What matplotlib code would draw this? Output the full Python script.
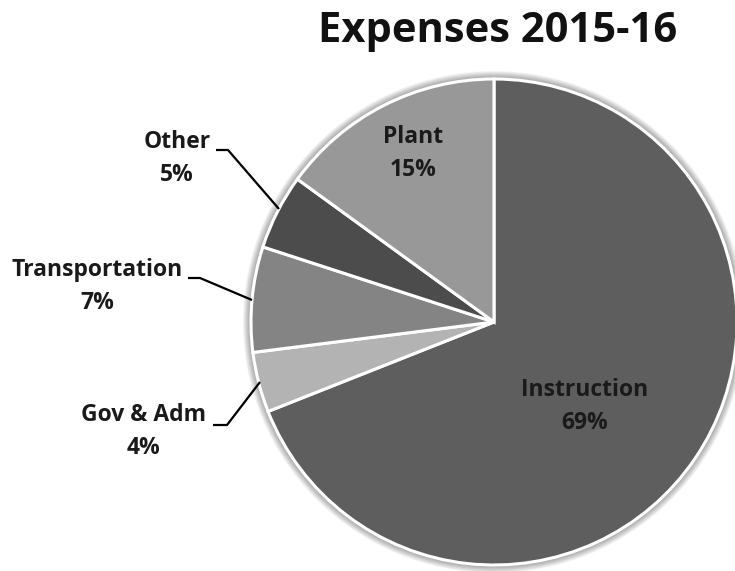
import matplotlib
matplotlib.use("Agg")
import matplotlib.pyplot as plt
from matplotlib.patches import Circle

categories = ["Instruction", "Gov & Adm", "Transportation", "Other", "Plant"]
values = [69, 4, 7, 5, 15]
colors = ["#5e5e5e", "#b3b3b3", "#848484", "#4c4c4c", "#989898"]
title = "Expenses 2015-16"

W, H = 735, 571
fig = plt.figure(figsize=(W / 100, H / 100), dpi=100)
ax = fig.add_axes([0, 0, 1, 1])
ax.set_xlim(0, W)
ax.set_ylim(0, H)
ax.set_aspect("equal")
ax.axis("off")

cx, cy = 494, H - 322
R = 243

# soft shadow
for i in range(10):
    ax.add_patch(Circle((cx, cy), R + 8 - i, color="black", alpha=0.05, lw=0, zorder=0))

wedges, _ = ax.pie(values, colors=colors, startangle=90, counterclock=False,
                   center=(cx, cy), radius=R,
                   wedgeprops=dict(edgecolor="white", linewidth=2.2))
for w in wedges:
    w.set_zorder(2)
ax.set_xlim(0, W)
ax.set_ylim(0, H)

font = "Open Sans"
fs = 16.5

def label(x, y, name, pct):
    ax.text(x, H - y, name, ha="center", va="center", fontsize=fs, fontweight="bold",
            family=font, color="#1a1a1a", zorder=5)
    ax.text(x, H - y - 33, f"{pct}%", ha="center", va="center", fontsize=fs,
            fontweight="bold", family=font, color="#1a1a1a", zorder=5)

label(413, 137, categories[4], values[4])
label(585, 390, categories[0], values[0])
label(177, 142, categories[3], values[3])
label(97, 270, categories[2], values[2])
label(144, 415, categories[1], values[1])

def leader(pts):
    xs = [p[0] for p in pts]
    ys = [H - p[1] for p in pts]
    ax.plot(xs, ys, color="black", lw=1.6, zorder=4, solid_capstyle="butt")

leader([(216, 150), (228, 150), (279, 209)])
leader([(188, 278), (200, 278), (252, 300)])
leader([(213, 425), (227, 425), (260, 382)])

ax.text(498, H - 32, title, ha="center", va="center", fontsize=30, fontweight="bold",
        family=font, color="#111111")

fig.savefig("out.png", dpi=100)
